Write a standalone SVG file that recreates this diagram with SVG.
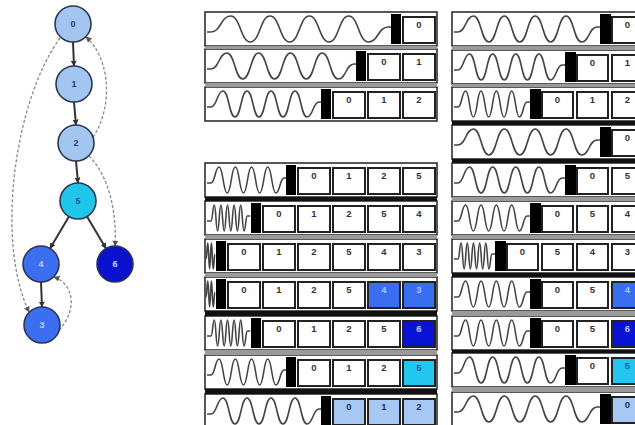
<svg xmlns="http://www.w3.org/2000/svg" xmlns:xlink="http://www.w3.org/1999/xlink" width="635" height="425" viewBox="0 0 635 425">
<style>
.fr{fill:#fff;stroke:#222;stroke-width:1.5}
.bx{fill:#fff;stroke:#222;stroke-width:2}
.lb{fill:#a8c8f4}.cy{fill:#22c6ee}.bl{fill:#3a6ef0}.dk{fill:#0a12d6}
.bar{fill:#000}
.wv{fill:none;stroke:#444;stroke-width:1.6}
.gy{fill:#9a9a9a}.bk{fill:#111}
.t{font-family:"Liberation Sans",Arial,sans-serif;font-size:9.5px;font-weight:bold;text-anchor:middle;fill:#333}
.tb{fill:#a9c4ff}.td{fill:#c0c8ff}.tc{fill:#1a60a0}.tl{fill:#1c2f6e}
.node{stroke:#2a3550;stroke-width:1.6}
.nl{font-family:"Liberation Sans",Arial,sans-serif;font-size:9px;font-weight:bold;text-anchor:middle}
.se{fill:none;stroke:#333;stroke-width:2}
.de{fill:none;stroke:#888;stroke-width:1.3;stroke-dasharray:3 2}
</style>
<defs>
<marker id="ah" viewBox="0 0 10 10" refX="9" refY="5" markerUnits="userSpaceOnUse" markerWidth="6" markerHeight="6" orient="auto"><path d="M0,0L10,5L0,10z" fill="#333"/></marker>
<marker id="ahg" viewBox="0 0 10 10" refX="9" refY="5" markerUnits="userSpaceOnUse" markerWidth="6" markerHeight="6" orient="auto"><path d="M0,0L10,5L0,10z" fill="#555"/></marker>
<path id="w1" class="wv" d="M0,3h4c9.83,0 9.83,-16 19.67,-16s9.83,26 19.67,26s9.83,-26 19.67,-26s9.83,26 19.67,26s9.83,-26 19.67,-26s9.83,26 19.67,26s9.83,-26 19.67,-26s9.83,26 19.67,26s9.83,-15 19.67,-15h3"/>
<path id="w2" class="wv" d="M0,3h4c7.94,0 7.94,-16 15.89,-16s7.94,26 15.89,26s7.94,-26 15.89,-26s7.94,26 15.89,26s7.94,-26 15.89,-26s7.94,26 15.89,26s7.94,-26 15.89,-26s7.94,26 15.89,26s7.94,-15 15.89,-15h3"/>
<path id="w3" class="wv" d="M0,3h4c6,0 6,-16 12,-16s6,26 12,26s6,-26 12,-26s6,26 12,26s6,-26 12,-26s6,26 12,26s6,-26 12,-26s6,26 12,26s6,-15 12,-15h3"/>
<path id="w4" class="wv" d="M0,3h4c4.06,0 4.06,-16 8.11,-16s4.06,26 8.11,26s4.06,-26 8.11,-26s4.06,26 8.11,26s4.06,-26 8.11,-26s4.06,26 8.11,26s4.06,-26 8.11,-26s4.06,26 8.11,26s4.06,-15 8.11,-15h3"/>
<path id="w5" class="wv" d="M0,3h4c1.65,0 1.65,-16 3.3,-16s1.65,26 3.3,26s1.65,-26 3.3,-26s1.65,26 3.3,26s1.65,-26 3.3,-26s1.65,26 3.3,26s1.65,-26 3.3,-26s1.65,26 3.3,26s1.65,-26 3.3,-26s1.65,26 3.3,26s1.65,-15 3.3,-15h3"/>
<path id="ws" class="wv" d="M0,3c.9,0 .9,-16 1.8,-16s.9,26 1.8,26s.9,-26 1.8,-26s.9,26 1.8,26s.9,-15 1.8,-15"/>
<path id="wr1" class="wv" d="M0,3h4c7.72,0 7.72,-16 15.44,-16s7.72,26 15.44,26s7.72,-26 15.44,-26s7.72,26 15.44,26s7.72,-26 15.44,-26s7.72,26 15.44,26s7.72,-26 15.44,-26s7.72,26 15.44,26s7.72,-15 15.44,-15h3"/>
<path id="wr2" class="wv" d="M0,3h4c5.78,0 5.78,-16 11.56,-16s5.78,26 11.56,26s5.78,-26 11.56,-26s5.78,26 11.56,26s5.78,-26 11.56,-26s5.78,26 11.56,26s5.78,-26 11.56,-26s5.78,26 11.56,26s5.78,-15 11.56,-15h3"/>
<path id="wr3" class="wv" d="M0,3h4c3.83,0 3.83,-16 7.67,-16s3.83,26 7.67,26s3.83,-26 7.67,-26s3.83,26 7.67,26s3.83,-26 7.67,-26s3.83,26 7.67,26s3.83,-26 7.67,-26s3.83,26 7.67,26s3.83,-15 7.67,-15h3"/>
<path id="wr7" class="wv" d="M0,3h4c1.55,0 1.55,-16 3.09,-16s1.55,26 3.09,26s1.55,-26 3.09,-26s1.55,26 3.09,26s1.55,-26 3.09,-26s1.55,26 3.09,26s1.55,-26 3.09,-26s1.55,26 3.09,26s1.55,-26 3.09,-26s1.55,26 3.09,26s1.55,-15 3.09,-15h3"/>
</defs>
<rect width="635" height="425" fill="#fff"/>

<g id="connectors">
<path class="se" d="M73,42L74,66" marker-end="url(#ah)"/>
<path class="se" d="M74,102L76,125" marker-end="url(#ah)"/>
<path class="se" d="M76,161L78,183" marker-end="url(#ah)"/>
<path class="se" d="M69,216.5L50,248.5" marker-end="url(#ah)"/>
<path class="se" d="M87,216.5L106,248.5" marker-end="url(#ah)"/>
<path class="se" d="M41,282L42,307" stroke-width="1.5" marker-end="url(#ah)"/>
<path class="de" d="M60,38C15,100 -5,240 29,312" marker-end="url(#ahg)"/>
<path class="de" d="M93,137C112,110 112,60 86,37" marker-end="url(#ahg)"/>
<path class="de" d="M89,156C108,175 117,210 115,246" marker-end="url(#ahg)"/>
<path class="de" d="M59,330C76,312 76,285 54,277" marker-end="url(#ahg)"/>
</g>

<g id="n0"><circle class="node" cx="73" cy="24" r="18" fill="#a3c6f0"/><text class="nl" x="73" y="27" fill="#1f3a7a">0</text></g>
<g id="n1"><circle class="node" cx="74" cy="84" r="18" fill="#a3c6f0"/><text class="nl" x="74" y="87" fill="#1f3a7a">1</text></g>
<g id="n2"><circle class="node" cx="76" cy="143" r="18" fill="#a3c6f0"/><text class="nl" x="76" y="146" fill="#1f3a7a">2</text></g>
<g id="n5"><circle class="node" cx="78" cy="201" r="18" fill="#1fc6ea"/><text class="nl" x="78" y="204" fill="#1d4f9d">5</text></g>
<g id="n4"><circle class="node" cx="41" cy="264" r="18" fill="#3b6ef0"/><text class="nl" x="41" y="267" fill="#b8d0ff">4</text></g>
<g id="n6"><circle class="node" cx="115" cy="264" r="18" fill="#0a12d0"/><text class="nl" x="115" y="267" fill="#c8d8ff">6</text></g>
<g id="n3"><circle class="node" cx="42" cy="325" r="18" fill="#3b6ef0"/><text class="nl" x="42" y="328" fill="#b8d0ff">3</text></g>

<g id="middle">
<rect class="fr" x="205" y="12" width="232" height="34"/>
<use href="#w1" x="207" y="29"/><rect class="bar" x="391" y="14" width="10" height="30"/>
<rect class="bx" x="403" y="17" width="32" height="26"/><text class="t" x="419" y="28">0</text>

<rect class="fr" x="205" y="49" width="232" height="34"/>
<use href="#w2" x="207" y="66"/><rect class="bar" x="356" y="51" width="10" height="30"/>
<rect class="bx" x="368" y="54" width="32" height="26"/><text class="t" x="384" y="65">0</text>
<rect class="bx" x="403" y="54" width="32" height="26"/><text class="t" x="419" y="65">1</text>

<rect class="fr" x="205" y="87" width="232" height="34"/>
<use href="#w3" x="207" y="104"/><rect class="bar" x="321" y="89" width="10" height="30"/>
<rect class="bx" x="333" y="92" width="32" height="26"/><text class="t" x="349" y="103">0</text>
<rect class="bx" x="368" y="92" width="32" height="26"/><text class="t" x="384" y="103">1</text>
<rect class="bx" x="403" y="92" width="32" height="26"/><text class="t" x="419" y="103">2</text>

<rect class="gy" x="205" y="46" width="232" height="3"/>
<rect class="gy" x="205" y="83" width="232" height="4"/>

<rect class="fr" x="205" y="163" width="232" height="34"/>
<use href="#w4" x="207" y="180"/><rect class="bar" x="286" y="165" width="10" height="30"/>
<rect class="bx" x="298" y="168" width="32" height="26"/><text class="t" x="314" y="179">0</text>
<rect class="bx" x="333" y="168" width="32" height="26"/><text class="t" x="349" y="179">1</text>
<rect class="bx" x="368" y="168" width="32" height="26"/><text class="t" x="384" y="179">2</text>
<rect class="bx" x="403" y="168" width="32" height="26"/><text class="t" x="419" y="179">5</text>

<rect class="fr" x="205" y="201" width="232" height="34"/>
<use href="#w5" x="207" y="218"/><rect class="bar" x="251" y="203" width="10" height="30"/>
<rect class="bx" x="263" y="206" width="32" height="26"/><text class="t" x="279" y="217">0</text>
<rect class="bx" x="298" y="206" width="32" height="26"/><text class="t" x="314" y="217">1</text>
<rect class="bx" x="333" y="206" width="32" height="26"/><text class="t" x="349" y="217">2</text>
<rect class="bx" x="368" y="206" width="32" height="26"/><text class="t" x="384" y="217">5</text>
<rect class="bx" x="403" y="206" width="32" height="26"/><text class="t" x="419" y="217">4</text>

<rect class="fr" x="205" y="239" width="232" height="34"/>
<use href="#ws" x="206" y="256"/><rect class="bar" x="216" y="241" width="10" height="30"/>
<rect class="bx" x="228" y="244" width="32" height="26"/><text class="t" x="244" y="255">0</text>
<rect class="bx" x="263" y="244" width="32" height="26"/><text class="t" x="279" y="255">1</text>
<rect class="bx" x="298" y="244" width="32" height="26"/><text class="t" x="314" y="255">2</text>
<rect class="bx" x="333" y="244" width="32" height="26"/><text class="t" x="349" y="255">5</text>
<rect class="bx" x="368" y="244" width="32" height="26"/><text class="t" x="384" y="255">4</text>
<rect class="bx" x="403" y="244" width="32" height="26"/><text class="t" x="419" y="255">3</text>

<rect class="fr" x="205" y="277" width="232" height="34"/>
<use href="#ws" x="206" y="294"/><rect class="bar" x="216" y="279" width="10" height="30"/>
<rect class="bx" x="228" y="282" width="32" height="26"/><text class="t" x="244" y="293">0</text>
<rect class="bx" x="263" y="282" width="32" height="26"/><text class="t" x="279" y="293">1</text>
<rect class="bx" x="298" y="282" width="32" height="26"/><text class="t" x="314" y="293">2</text>
<rect class="bx" x="333" y="282" width="32" height="26"/><text class="t" x="349" y="293">5</text>
<rect class="bx bl" x="368" y="282" width="32" height="26"/><text class="t tb" x="384" y="293">4</text>
<rect class="bx bl" x="403" y="282" width="32" height="26"/><text class="t tb" x="419" y="293">3</text>

<rect class="fr" x="205" y="316" width="232" height="34"/>
<use href="#w5" x="207" y="333"/><rect class="bar" x="251" y="318" width="10" height="30"/>
<rect class="bx" x="263" y="321" width="32" height="26"/><text class="t" x="279" y="332">0</text>
<rect class="bx" x="298" y="321" width="32" height="26"/><text class="t" x="314" y="332">1</text>
<rect class="bx" x="333" y="321" width="32" height="26"/><text class="t" x="349" y="332">2</text>
<rect class="bx" x="368" y="321" width="32" height="26"/><text class="t" x="384" y="332">5</text>
<rect class="bx dk" x="403" y="321" width="32" height="26"/><text class="t td" x="419" y="332">6</text>

<rect class="fr" x="205" y="355" width="232" height="34"/>
<use href="#w4" x="207" y="372"/><rect class="bar" x="286" y="357" width="10" height="30"/>
<rect class="bx" x="298" y="360" width="32" height="26"/><text class="t" x="314" y="371">0</text>
<rect class="bx" x="333" y="360" width="32" height="26"/><text class="t" x="349" y="371">1</text>
<rect class="bx" x="368" y="360" width="32" height="26"/><text class="t" x="384" y="371">2</text>
<rect class="bx cy" x="403" y="360" width="32" height="26"/><text class="t tc" x="419" y="371">5</text>

<rect class="fr" x="205" y="394" width="232" height="34"/>
<use href="#w3" x="207" y="411"/><rect class="bar" x="321" y="396" width="10" height="30"/>
<rect class="bx lb" x="333" y="399" width="32" height="26"/><text class="t tl" x="349" y="410">0</text>
<rect class="bx lb" x="368" y="399" width="32" height="26"/><text class="t tl" x="384" y="410">1</text>
<rect class="bx lb" x="403" y="399" width="32" height="26"/><text class="t tl" x="419" y="410">2</text>

<rect class="bk" x="205" y="197" width="232" height="4"/>
<rect class="gy" x="205" y="235" width="232" height="4"/>
<rect class="gy" x="205" y="273" width="232" height="4"/>
<rect class="bk" x="205" y="311" width="232" height="5"/>
<rect class="gy" x="205" y="350" width="232" height="5"/>
<rect class="bk" x="205" y="389" width="232" height="5"/>
</g>

<g id="right">
<rect class="fr" x="452" y="12" width="190" height="34"/>
<use href="#wr1" x="454" y="29"/><rect class="bar" x="600" y="14" width="11" height="30"/>
<rect class="bx" x="612" y="17" width="31" height="26"/><text class="t" x="627.5" y="28">0</text>

<rect class="fr" x="452" y="50" width="190" height="34"/>
<use href="#wr2" x="454" y="67"/><rect class="bar" x="565" y="52" width="11" height="30"/>
<rect class="bx" x="577" y="55" width="31" height="26"/><text class="t" x="592.5" y="66">0</text>
<rect class="bx" x="612" y="55" width="31" height="26"/><text class="t" x="627.5" y="66">1</text>

<rect class="fr" x="452" y="87" width="190" height="34"/>
<use href="#wr3" x="454" y="104"/><rect class="bar" x="530" y="89" width="11" height="30"/>
<rect class="bx" x="542" y="92" width="31" height="26"/><text class="t" x="557.5" y="103">0</text>
<rect class="bx" x="577" y="92" width="31" height="26"/><text class="t" x="592.5" y="103">1</text>
<rect class="bx" x="612" y="92" width="31" height="26"/><text class="t" x="627.5" y="103">2</text>

<rect class="fr" x="452" y="125" width="190" height="34"/>
<use href="#wr1" x="454" y="142"/><rect class="bar" x="600" y="127" width="11" height="30"/>
<rect class="bx" x="612" y="130" width="31" height="26"/><text class="t" x="627.5" y="141">0</text>

<rect class="fr" x="452" y="163" width="190" height="34"/>
<use href="#wr2" x="454" y="180"/><rect class="bar" x="565" y="165" width="11" height="30"/>
<rect class="bx" x="577" y="168" width="31" height="26"/><text class="t" x="592.5" y="179">0</text>
<rect class="bx" x="612" y="168" width="31" height="26"/><text class="t" x="627.5" y="179">5</text>

<rect class="fr" x="452" y="201" width="190" height="34"/>
<use href="#wr3" x="454" y="218"/><rect class="bar" x="530" y="203" width="11" height="30"/>
<rect class="bx" x="542" y="206" width="31" height="26"/><text class="t" x="557.5" y="217">0</text>
<rect class="bx" x="577" y="206" width="31" height="26"/><text class="t" x="592.5" y="217">5</text>
<rect class="bx" x="612" y="206" width="31" height="26"/><text class="t" x="627.5" y="217">4</text>

<rect class="fr" x="452" y="239" width="190" height="34"/>
<use href="#wr7" x="454" y="256"/><rect class="bar" x="495" y="241" width="11" height="30"/>
<rect class="bx" x="507" y="244" width="31" height="26"/><text class="t" x="522.5" y="255">0</text>
<rect class="bx" x="542" y="244" width="31" height="26"/><text class="t" x="557.5" y="255">5</text>
<rect class="bx" x="577" y="244" width="31" height="26"/><text class="t" x="592.5" y="255">4</text>
<rect class="bx" x="612" y="244" width="31" height="26"/><text class="t" x="627.5" y="255">3</text>

<rect class="fr" x="452" y="277" width="190" height="34"/>
<use href="#wr3" x="454" y="294"/><rect class="bar" x="530" y="279" width="11" height="30"/>
<rect class="bx" x="542" y="282" width="31" height="26"/><text class="t" x="557.5" y="293">0</text>
<rect class="bx" x="577" y="282" width="31" height="26"/><text class="t" x="592.5" y="293">5</text>
<rect class="bx bl" x="612" y="282" width="31" height="26"/><text class="t tb" x="627.5" y="293">4</text>

<rect class="fr" x="452" y="316" width="190" height="34"/>
<use href="#wr3" x="454" y="333"/><rect class="bar" x="530" y="318" width="11" height="30"/>
<rect class="bx" x="542" y="321" width="31" height="26"/><text class="t" x="557.5" y="332">0</text>
<rect class="bx" x="577" y="321" width="31" height="26"/><text class="t" x="592.5" y="332">5</text>
<rect class="bx dk" x="612" y="321" width="31" height="26"/><text class="t td" x="627.5" y="332">6</text>

<rect class="fr" x="452" y="353" width="190" height="34"/>
<use href="#wr2" x="454" y="370"/><rect class="bar" x="565" y="355" width="11" height="30"/>
<rect class="bx" x="577" y="358" width="31" height="26"/><text class="t" x="592.5" y="369">0</text>
<rect class="bx cy" x="612" y="358" width="31" height="26"/><text class="t tc" x="627.5" y="369">5</text>

<rect class="fr" x="452" y="392" width="190" height="34"/>
<use href="#wr1" x="454" y="409"/><rect class="bar" x="600" y="394" width="11" height="30"/>
<rect class="bx lb" x="612" y="397" width="31" height="26"/><text class="t tl" x="627.5" y="408">0</text>

<rect class="gy" x="452" y="46" width="190" height="4"/>
<rect class="gy" x="452" y="84" width="190" height="3"/>
<rect class="bk" x="452" y="121" width="190" height="4"/>
<rect class="bk" x="452" y="159" width="190" height="4"/>
<rect class="gy" x="452" y="197" width="190" height="4"/>
<rect class="gy" x="452" y="235" width="190" height="4"/>
<rect class="bk" x="452" y="273" width="190" height="4"/>
<rect class="gy" x="452" y="311" width="190" height="5"/>
<rect class="bk" x="452" y="350" width="190" height="3"/>
<rect class="gy" x="452" y="387" width="190" height="5"/>
</g>
</svg>
